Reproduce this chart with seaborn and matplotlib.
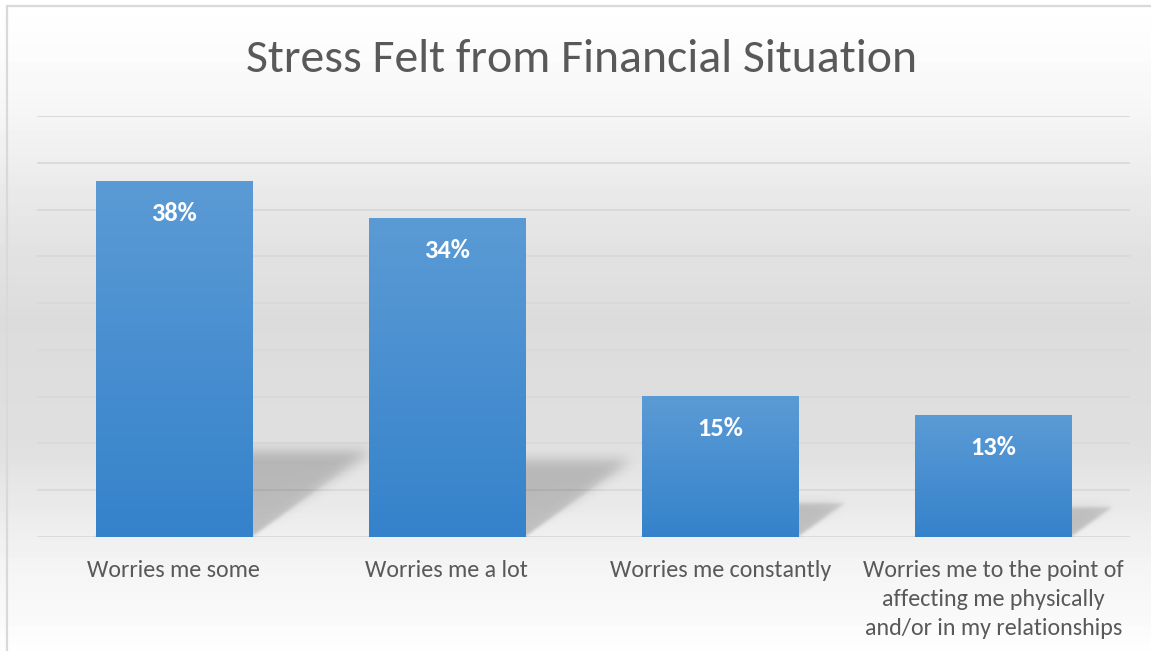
import numpy as np
import pandas as pd
import matplotlib
matplotlib.use("Agg")
import matplotlib.pyplot as plt
import seaborn as sns
from matplotlib.colors import to_rgb
from matplotlib.lines import Line2D

# Survey data
categories = [
    "Worries me some",
    "Worries me a lot",
    "Worries me constantly",
    "Worries me to the point of\naffecting me physically\nand/or in my relationships",
]
values = [38, 34, 15, 13]
value_labels = ["38%", "34%", "15%", "13%"]
title = "Stress Felt from Financial Situation"

sns.set_theme(style="white")
plt.rcParams["font.family"] = ["Carlito", "Lato", "DejaVu Sans"]

W, H = 1151, 651
fig = plt.figure(figsize=(W / 100, H / 100), dpi=100)

# Soft vertical background shading
bg = fig.add_axes([0, 0, 1, 1], zorder=-10)
ypix = np.arange(H)
anchors_y = [0, 60, 116, 220, 320, 440, 510, 560, 651]
anchors_v = [1.00, 0.985, 0.962, 0.90, 0.862, 0.875, 0.92, 0.955, 0.995]
prof = np.interp(ypix, anchors_y, anchors_v)
bg_img = np.repeat(prof[:, None], W, axis=1)
bg.imshow(bg_img, cmap="gray", vmin=0, vmax=1, extent=[0, 1, 0, 1],
          aspect="auto", origin="upper", interpolation="bilinear")
bg.set_axis_off()

# Frame (left and top edges)
fig.add_artist(Line2D([6.5 / W, 6.5 / W], [0, 1 - 5.5 / H], color="#d9d9d9",
                      lw=1.6, transform=fig.transFigure))
fig.add_artist(Line2D([6.5 / W, 1], [1 - 5.5 / H, 1 - 5.5 / H], color="#d9d9d9",
                      lw=1.6, transform=fig.transFigure))

left, right = 37 / W, 1130 / W
bottom, top = (H - 537) / H, (H - 116) / H
ax = fig.add_axes([left, bottom, right - left, top - bottom])
ax.patch.set_alpha(0)

df = pd.DataFrame({"category": categories, "value": values})
bar_w = 0.571
sns.barplot(data=df, x="category", y="value", ax=ax, color="#5b9bd5",
            width=bar_w, saturation=1, zorder=2)

ymax = 45
xlo, xhi = -0.5, 3.5
ax_w_px = (right - left) * W
ax_h_px = (top - bottom) * H
px_per_x = ax_w_px / (xhi - xlo)
px_per_y = ax_h_px / ymax

# Perspective shadows cast to the upper right of each bar
ymin_img = -3.0
gx = np.linspace(xlo, xhi, int(ax_w_px))
gy = np.linspace(ymin_img, ymax, int(ax_h_px + 3 * px_per_y))
XX, YY = np.meshgrid(gx, gy)
mask = np.zeros_like(XX)
for p in ax.patches:
    x0, w, v = p.get_x(), p.get_width(), p.get_height()
    hs = 0.24 * v
    dxs = 0.335 * v * px_per_y / px_per_x
    t = np.clip(YY / hs, 0, 1)
    inside = (YY >= ymin_img) & (YY <= hs) & \
             (XX >= x0 + t * dxs) & (XX <= x0 + w + t * dxs)
    mask[inside] = 1.0


def blur(img, sigma):
    r = int(3 * sigma)
    k = np.exp(-0.5 * (np.arange(-r, r + 1) / sigma) ** 2)
    k /= k.sum()
    out = np.apply_along_axis(lambda m: np.convolve(m, k, mode="same"), 1, img)
    out = np.apply_along_axis(lambda m: np.convolve(m, k, mode="same"), 0, out)
    return out


b_small = blur(mask, 1.5)
b_large = blur(mask, 6.0)
hpx = np.clip(YY * px_per_y / 70.0, 0, 1)
shadow = b_small * (1 - hpx) + b_large * hpx
rgba = np.zeros(shadow.shape + (4,))
rgba[..., 3] = 0.20 * shadow
ax.imshow(rgba, extent=[xlo, xhi, ymin_img, ymax], origin="lower",
          aspect="auto", zorder=0.6, interpolation="bilinear")

# Gradient fill for the bars
c_top = np.array(to_rgb("#5b9bd5"))
c_bot = np.array(to_rgb("#3582cb"))
grad = np.linspace(0, 1, 256)[:, None]
grad_img = (c_top[None, :] * (1 - grad) + c_bot[None, :] * grad)[:, None, :]
for p, lab, v in zip(ax.patches, value_labels, values):
    x0, w, h = p.get_x(), p.get_width(), p.get_height()
    p.set_facecolor("none")
    p.set_edgecolor("none")
    ax.imshow(grad_img, extent=[x0, x0 + w, 0, h], origin="upper",
              aspect="auto", zorder=2, interpolation="bilinear")
    ax.annotate(lab, xy=(x0 + w / 2, v), xytext=(0, -23), textcoords="offset points",
                ha="center", va="center", color="white", fontsize=19,
                fontweight="bold", zorder=3)

ax.set_xlim(xlo, xhi)
ax.set_ylim(0, ymax)
ax.set_yticks(np.arange(0, ymax + 1, 5))
ax.yaxis.grid(True, color="#d9d9d9", lw=1.3, zorder=0.5)
ax.set_axisbelow(True)
ax.tick_params(axis="y", left=False, labelleft=False)
ax.tick_params(axis="x", bottom=False, pad=10.5, labelsize=17.3, labelcolor="#595959")
for t in ax.get_xticklabels():
    t.set_linespacing(1.46)
ax.set_xlabel("")
ax.set_ylabel("")
for s in ax.spines.values():
    s.set_visible(False)

fig.text(582 / W, 1 - 59 / H, title, ha="center", va="center",
         fontsize=34.4, color="#595959")

fig.savefig("out.png", dpi=100)
